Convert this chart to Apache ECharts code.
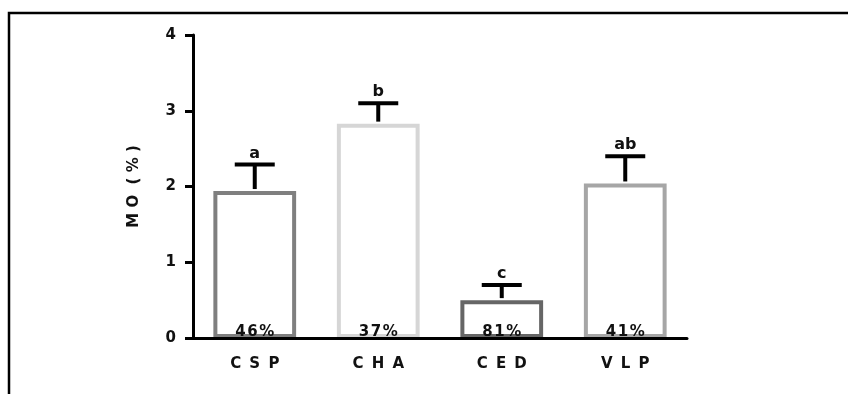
<!DOCTYPE html>
<html>
<head>
<meta charset="utf-8">
<script src="https://cdn.jsdelivr.net/npm/echarts@6/dist/echarts.min.js"></script>
<style>
  html, body { margin: 0; padding: 0; background: #fff; }
  #chart { width: 848px; height: 394px; }
</style>
</head>
<body>
<div id="chart"></div>
<script>
// Organic matter by site
const categories = ['C\u2009 S\u2009 P', 'C\u2009 H\u2009 A', 'C\u2009 E\u2009 D', 'V\u2009 L\u2009 P'];
const means = [1.94, 2.83, 0.50, 2.04];
const errors = [0.35, 0.27, 0.20, 0.36];
const groups = ['a', 'b', 'c', 'ab'];
const cvLabels = ['4\u200A6\u200A%', '3\u200A7\u200A%', '8\u200A1\u200A%', '4\u200A1\u200A%'];
const barColors = ['#7f7f7f', '#d6d6d6', '#666666', '#a6a6a6'];
const yTicks = [0, 1, 2, 3, 4];

const FONT = '"DejaVu Sans", sans-serif';
const chart = echarts.init(document.getElementById('chart'));

const option = {
  animation: false,
  graphic: [{
    type: 'rect',
    shape: { x: 9, y: 13, width: 900, height: 420 },
    style: { fill: 'none', stroke: '#000', lineWidth: 2.5 },
    silent: true
  }],
  grid: { left: 193, right: 161, top: 35, bottom: 56 },
  xAxis: {
    type: 'category',
    data: categories,
    z: 5,
    axisLine: { lineStyle: { color: '#000', width: 3 } },
    axisTick: { alignWithLabel: true, length: 7, lineStyle: { color: '#000', width: 3 } },
    axisLabel: { color: '#111', fontFamily: FONT, fontWeight: 'bold', fontSize: 15, margin: 19 }
  },
  yAxis: {
    type: 'value',
    min: yTicks[0],
    max: yTicks[yTicks.length - 1],
    interval: 1,
    z: 5,
    name: 'M O  ( % )',
    nameLocation: 'middle',
    nameGap: 51,
    nameTextStyle: { color: '#111', fontFamily: FONT, fontWeight: 'bold', fontSize: 15 },
    splitLine: { show: false },
    axisLine: { show: true, lineStyle: { color: '#000', width: 3 } },
    axisTick: { show: true, length: 8, lineStyle: { color: '#000', width: 3 } },
    axisLabel: { color: '#111', fontFamily: FONT, fontWeight: 'bold', fontSize: 15, margin: 17 }
  },
  series: [
    {
      type: 'bar',
      barWidth: '67%',
      data: means.map((v, i) => ({
        value: v,
        itemStyle: { color: '#fff', borderColor: barColors[i], borderWidth: 4 },
        label: {
          show: true,
          position: 'insideBottom',
          distance: -2,
          formatter: cvLabels[i],
          color: '#111',
          fontFamily: FONT,
          fontWeight: 'bold',
          fontSize: 15
        }
      })),
      z: 2
    },
    {
      type: 'custom',
      data: means.map((v, i) => [i, v, v + errors[i]]),
      z: 3,
      renderItem: function (params, api) {
        const i = api.value(0);
        const base = api.coord([i, api.value(1)]);
        const top = api.coord([i, api.value(2)]);
        const half = 20;
        return {
          type: 'group',
          children: [
            { type: 'line', shape: { x1: base[0], y1: base[1] - 2, x2: top[0], y2: top[1] },
              style: { stroke: '#000', lineWidth: 4 } },
            { type: 'line', shape: { x1: top[0] - half, y1: top[1], x2: top[0] + half, y2: top[1] },
              style: { stroke: '#000', lineWidth: 4 } },
            { type: 'text', x: top[0], y: top[1] - 3,
              style: { text: groups[params.dataIndex], textAlign: 'center', textVerticalAlign: 'bottom',
                       fill: '#111', font: 'bold 16px ' + FONT } }
          ]
        };
      }
    }
  ]
};
chart.setOption(option);
</script>
</body>
</html>
